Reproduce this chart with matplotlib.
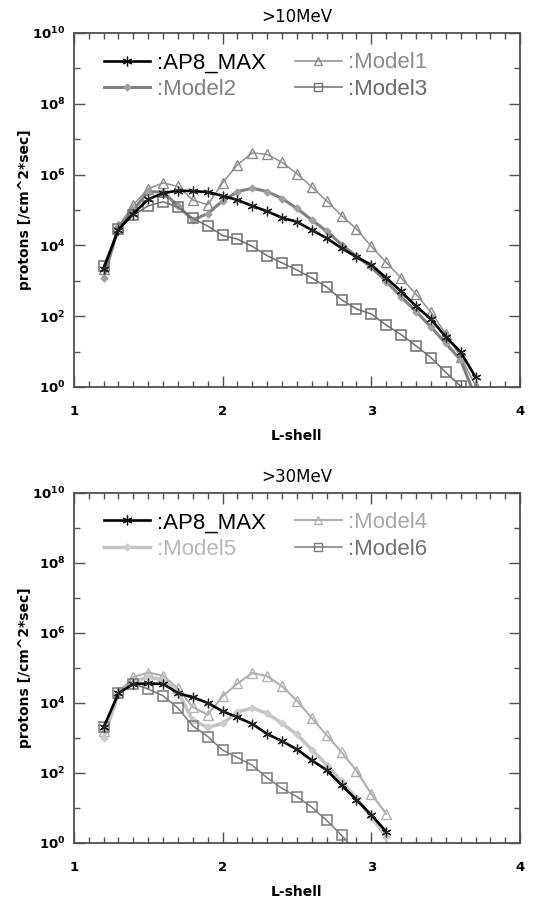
import matplotlib
matplotlib.use("Agg")
import matplotlib.pyplot as plt
from matplotlib.ticker import FixedLocator, FixedFormatter
from matplotlib.lines import Line2D

# ---------------- data ----------------
L_10 = [1.2, 1.3, 1.4, 1.5, 1.6, 1.7, 1.8, 1.9, 2.0, 2.1, 2.2, 2.3, 2.4,
        2.5, 2.6, 2.7, 2.8, 2.9, 3.0, 3.1, 3.2, 3.3, 3.4, 3.5, 3.6, 3.7]
ap8_10 = [2.2e3, 2.8e4, 7.9e4, 2.0e5, 3.0e5, 3.5e5, 3.4e5, 3.2e5, 2.5e5, 1.9e5,
          1.3e5, 9.1e4, 6.0e4, 4.6e4, 2.7e4, 1.6e4, 8.3e3, 4.7e3, 2.8e3, 1.2e3,
          5.0e2, 1.9e2, 83, 26, 9.8, 1.9]
model1 = [2.2e3, 3.5e4, 1.4e5, 4.0e5, 5.8e5, 4.6e5, 1.9e5, 1.4e5, 5.8e5, 1.9e6,
          4.1e6, 3.7e6, 2.2e6, 1.05e6, 4.4e5, 1.8e5, 6.9e4, 2.9e4, 9.3e3, 3.3e3,
          1.2e3, 4.2e2, 1.3e2, 32, 7.1, 1.1]
model2 = [1.2e3, 3.2e4, 1.0e5, 3.3e5, 3.2e5, 1.3e5, 5.2e4, 7.9e4, 1.8e5, 3.3e5,
          4.1e5, 3.3e5, 2.1e5, 1.1e5, 5.2e4, 2.5e4, 1.05e4, 4.9e3, 2.4e3, 9.5e2,
          3.5e2, 1.35e2, 50, 17, 5.8, 0.5]
model3 = [2.6e3, 2.9e4, 7.2e4, 1.3e5, 1.7e5, 1.2e5, 5.8e4, 3.5e4, 1.9e4, 1.5e4,
          9.3e3, 5.1e3, 3.2e3, 2.0e3, 1.2e3, 6.6e2, 2.9e2, 1.6e2, 1.15e2, 56,
          30, 14.5, 6.8, 2.6, 1.05, 0.4]

L_30 = [1.2, 1.3, 1.4, 1.5, 1.6, 1.7, 1.8, 1.9, 2.0, 2.1, 2.2, 2.3, 2.4,
        2.5, 2.6, 2.7, 2.8, 2.9, 3.0, 3.1]
ap8_30 = [2.0e3, 1.9e4, 3.5e4, 3.6e4, 3.5e4, 1.9e4, 1.45e4, 1.0e4, 5.8e3, 3.9e3,
          2.5e3, 1.3e3, 8.1e2, 4.7e2, 2.3e2, 1.2e2, 45, 17, 6.3, 2.1]
model4 = [1.6e3, 2.0e4, 5.5e4, 7.4e4, 6.0e4, 2.6e4, 7.6e3, 4.6e3, 1.55e4, 3.6e4,
          7.2e4, 5.8e4, 3.0e4, 1.15e4, 3.7e3, 1.2e3, 3.9e2, 1.15e2, 25, 6.8]
model5 = [1.0e3, 1.8e4, 4.0e4, 5.5e4, 4.6e4, 2.0e4, 3.2e3, 2.0e3, 2.6e3, 5.5e3,
          7.2e3, 5.0e3, 2.6e3, 1.26e3, 4.6e2, 1.7e2, 58, 19, 5.5, 1.5]
L_m6 = [1.2, 1.3, 1.4, 1.5, 1.6, 1.7, 1.8, 1.9, 2.0, 2.1, 2.2, 2.3, 2.4,
        2.5, 2.6, 2.7, 2.8, 2.9]
model6 = [2.0e3, 1.9e4, 3.5e4, 2.5e4, 1.6e4, 7.1e3, 2.2e3, 1.1e3, 4.5e2, 2.75e2,
          1.65e2, 72, 36, 21, 10.5, 4.4, 1.65, 0.56]

x_ticks = [1, 2, 3, 4]
x_ticklabels = ['1', '2', '3', '4']
y_major = [1e0, 1e2, 1e4, 1e6, 1e8, 1e10]
y_ticklabels = [r'$\mathbf{10^{0}}$', r'$\mathbf{10^{2}}$', r'$\mathbf{10^{4}}$',
                r'$\mathbf{10^{6}}$', r'$\mathbf{10^{8}}$', r'$\mathbf{10^{10}}$']
y_minor = [1e1, 1e3, 1e5, 1e7, 1e9]
x_minor = [1.1, 1.2, 1.3, 1.4, 1.5, 1.6, 1.7, 1.8, 1.9,
           2.1, 2.2, 2.3, 2.4, 2.5, 2.6, 2.7, 2.8, 2.9,
           3.1, 3.2, 3.3, 3.4, 3.5, 3.6, 3.7, 3.8, 3.9]

ASTER = (6, 2, 0)
SPINE = '#505050'

fig = plt.figure(figsize=(5.39, 9.01), dpi=100)
ax1 = fig.add_axes([0.137, 0.5705, 0.828, 0.393])
ax2 = fig.add_axes([0.137, 0.0644, 0.828, 0.3885])


def style(ax, title):
    ax.set_yscale('log')
    ax.set_xlim(1, 4)
    ax.set_ylim(1, 1e10)
    ax.xaxis.set_major_locator(FixedLocator(x_ticks))
    ax.xaxis.set_major_formatter(FixedFormatter(x_ticklabels))
    ax.xaxis.set_minor_locator(FixedLocator(x_minor))
    ax.yaxis.set_major_locator(FixedLocator(y_major))
    ax.yaxis.set_major_formatter(FixedFormatter(y_ticklabels))
    ax.yaxis.set_minor_locator(FixedLocator(y_minor))
    ax.yaxis.set_minor_formatter(FixedFormatter([''] * len(y_minor)))
    ax.tick_params(which='both', direction='in', top=True, right=True,
                   color=SPINE, width=1.0)
    ax.tick_params(which='major', length=8)
    ax.tick_params(which='minor', length=4.5)
    ax.tick_params(axis='x', which='major', pad=13, labelsize=9.5)
    ax.tick_params(axis='y', which='major', pad=6, labelsize=9.5)
    for lab in ax.get_xticklabels():
        lab.set_fontweight('bold')
    for sp in ax.spines.values():
        sp.set_color(SPINE)
        sp.set_linewidth(1.3)
    ax.set_xlabel('L-shell', fontsize=10, fontweight='bold', labelpad=8)
    ax.set_ylabel('protons [/cm^2*sec]', fontsize=10, fontweight='bold')
    ax.yaxis.set_label_coords(-0.094, 0.5)
    ax.set_title(title, fontsize=12, pad=8)


style(ax1, '>10MeV')
style(ax2, '>30MeV')

# ---- top panel ----
ax1.plot(L_10, model1, color='#909090', lw=1.1, marker='^', ms=7,
         mfc='none', mec='#8c8c8c', mew=1.0)
ax1.plot(L_10, model2, color='#808080', lw=2.2, marker='D', ms=3.5,
         mfc='#a0a0a0', mec='#a0a0a0')
ax1.plot(L_10, model3, color='#6e6e6e', lw=1.1, marker='s', ms=7,
         mfc='none', mec='#6e6e6e', mew=1.1)
ax1.plot(L_10, ap8_10, color='black', lw=1.9, marker=ASTER, ms=7,
         mec='#222222', mew=0.9)

h1 = [Line2D([], [], color='black', lw=1.9, marker=ASTER, ms=7, mew=0.9),
      Line2D([], [], color='#808080', lw=2.2, marker='D', ms=3.5,
             mfc='#a0a0a0', mec='#a0a0a0'),
      Line2D([], [], color='#909090', lw=1.1, marker='^', ms=6,
             mfc='none', mec='#8c8c8c'),
      Line2D([], [], color='#6e6e6e', lw=1.1, marker='s', ms=6,
             mfc='none', mec='#6e6e6e')]
labels1 = [':AP8_MAX', ':Model2', ':Model1', ':Model3']
colors1 = ['black', '#808080', '#8a8a8a', '#6a6a6a']

# ---- bottom panel ----
ax2.plot(L_30, model4, color='#b0b0b0', lw=1.5, marker='^', ms=7,
         mfc='none', mec='#b0b0b0', mew=1.0)
ax2.plot(L_30, model5, color='#c4c4c4', lw=2.5, marker='D', ms=3.5,
         mfc='#cccccc', mec='#cccccc')
ax2.plot(L_m6, model6, color='#7a7a7a', lw=1.1, marker='s', ms=7,
         mfc='none', mec='#7a7a7a', mew=1.1)
ax2.plot(L_30, ap8_30, color='black', lw=1.9, marker=ASTER, ms=7,
         mec='#222222', mew=0.9)

h2 = [Line2D([], [], color='black', lw=1.9, marker=ASTER, ms=7, mew=0.9),
      Line2D([], [], color='#c4c4c4', lw=2.5, marker='D', ms=3.5,
             mfc='#cccccc', mec='#cccccc'),
      Line2D([], [], color='#b0b0b0', lw=1.5, marker='^', ms=6,
             mfc='none', mec='#b0b0b0'),
      Line2D([], [], color='#7a7a7a', lw=1.1, marker='s', ms=6,
             mfc='none', mec='#7a7a7a')]
labels2 = [':AP8_MAX', ':Model5', ':Model4', ':Model6']
colors2 = ['black', '#b8b8b8', '#a8a8a8', '#707070']


def add_legend(ax, handles, labels, colors):
    leg = ax.legend(handles, labels, ncol=2, loc='upper left',
                    bbox_to_anchor=(0.067, 0.945), frameon=False,
                    borderpad=0, borderaxespad=0, numpoints=1,
                    handlelength=2.1, handletextpad=0.3, columnspacing=1.3,
                    labelspacing=0.25,
                    prop={'family': 'Liberation Sans', 'size': 16})
    for t, c in zip(leg.get_texts(), colors):
        t.set_color(c)


add_legend(ax1, h1, labels1, colors1)
add_legend(ax2, h2, labels2, colors2)

fig.savefig('out.png', dpi=100)
